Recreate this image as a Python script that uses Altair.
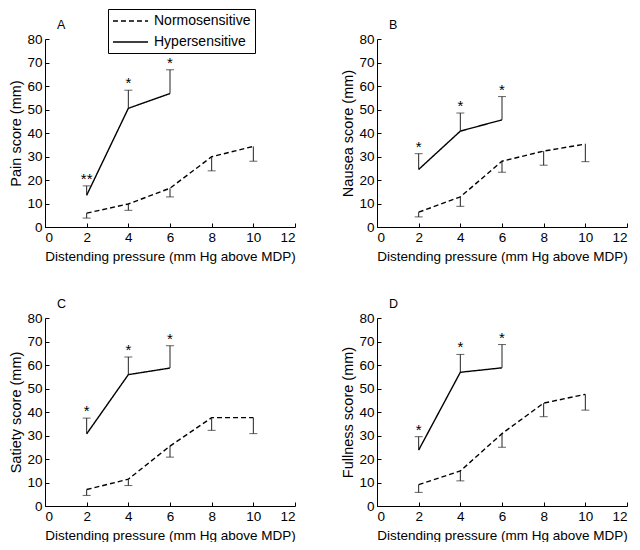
import altair as alt
import pandas as pd

FONT = "Liberation Sans"

x_hyper = [2, 4, 6]
x_normo = [2, 4, 6, 8, 10]
x_ticks = [0, 2, 4, 6, 8, 10, 12]
y_ticks = [0, 10, 20, 30, 40, 50, 60, 70, 80]
groups = ["Normosensitive", "Hypersensitive"]
x_title = "Distending pressure (mm Hg above MDP)"

panel_letters = ["A", "B", "C", "D"]
y_titles = ["Pain score (mm)", "Nausea score (mm)", "Satiety score (mm)", "Fullness score (mm)"]

# Hypersensitive means and upper error ends
pain_hyper = [13.5, 50.5, 56.8]
pain_hyper_hi = [17.5, 58.2, 66.9]
nausea_hyper = [24.5, 40.8, 45.6]
nausea_hyper_hi = [31.2, 48.5, 55.5]
satiety_hyper = [30.7, 55.9, 58.7]
satiety_hyper_hi = [37.4, 63.4, 68.2]
fullness_hyper = [23.8, 56.9, 58.8]
fullness_hyper_hi = [29.5, 64.5, 68.7]

# Normosensitive means and lower error ends
pain_normo = [5.9, 9.8, 16.5, 29.9, 34.3]
pain_normo_lo = [3.8, 7.1, 12.8, 23.9, 28.0]
nausea_normo = [6.3, 12.8, 28.0, 32.3, 35.3]
nausea_normo_lo = [4.3, 8.8, 23.3, 26.3, 27.8]
satiety_normo = [7.0, 11.4, 25.5, 37.6, 37.6]
satiety_normo_lo = [4.5, 8.7, 20.8, 32.2, 30.8]
fullness_normo = [9.1, 14.9, 30.8, 43.8, 47.5]
fullness_normo_lo = [5.8, 10.7, 25.0, 38.0, 40.8]

pain_stars = ["**", "*", "*"]
nausea_stars = ["*", "*", "*"]
satiety_stars = ["*", "*", "*"]
fullness_stars = ["*", "*", "*"]

W, H = 250, 188


def panel(letter, ytitle, h, h_hi, n, n_lo, stars, show_legend):
    names = ["Hypersensitive"] * len(x_hyper) + ["Normosensitive"] * len(x_normo)
    lines = pd.DataFrame({"x": x_hyper + x_normo, "y": h + n, "group": names})
    bars = pd.DataFrame({"x": x_hyper + x_normo, "y": h + n, "y2": h_hi + n_lo})
    star_df = pd.DataFrame({"x": x_hyper, "y": h_hi, "s": stars})

    xs = alt.Scale(domain=[0, 12], nice=False)
    ys = alt.Scale(domain=[0, 80], nice=False)

    x_main = alt.Axis(values=x_ticks, tickSize=0, labelPadding=3, titlePadding=6,
                      domainColor="black", labelColor="black", titleColor="black",
                      labelFont=FONT, titleFont=FONT, labelFontSize=13.5, titleFontSize=13.5,
                      titleFontWeight="normal", grid=False, orient="bottom")
    y_main = alt.Axis(values=y_ticks, tickSize=0, labelPadding=3, titlePadding=3,
                      domainColor="black", labelColor="black", titleColor="black",
                      labelFont=FONT, titleFont=FONT, labelFontSize=13.5, titleFontSize=14.5,
                      titleFontWeight="normal", grid=False, orient="left")
    x_tk = alt.Axis(values=x_ticks, tickSize=4, offset=-4, domain=False, labels=False,
                    title=None, tickColor="black", grid=False, orient="bottom")
    y_tk = alt.Axis(values=y_ticks, tickSize=4, offset=-4, domain=False, labels=False,
                    title=None, tickColor="black", grid=False, orient="left")

    if show_legend:
        legend = alt.Legend(title=None, orient="none", legendX=63, legendY=-30,
                            symbolType="M-1,0H4", symbolSize=196, symbolStrokeWidth=1.3,
                            symbolStrokeColor="black", symbolFillColor="transparent",
                            labelFont=FONT, labelFontSize=14,
                            labelColor="black", strokeColor="black", padding=4,
                            rowPadding=6, labelOffset=26)
    else:
        legend = None

    line = alt.Chart(lines).mark_line(color="black", strokeWidth=1.4).encode(
        x=alt.X("x:Q", scale=xs, axis=x_main, title=x_title),
        y=alt.Y("y:Q", scale=ys, axis=y_main, title=ytitle),
        strokeDash=alt.StrokeDash("group:N",
                                  scale=alt.Scale(domain=groups, range=[[5, 3], [1, 0]]),
                                  legend=legend),
    )
    rule = alt.Chart(bars).mark_rule(color="#222222", strokeWidth=1).encode(
        x=alt.X("x:Q", scale=xs, axis=x_tk),
        y=alt.Y("y:Q", scale=ys, axis=y_tk),
        y2="y2:Q",
    )
    cap = alt.Chart(bars).mark_tick(color="#222222", orient="horizontal", size=8, thickness=1).encode(
        x=alt.X("x:Q", scale=xs, axis=None),
        y=alt.Y("y2:Q", scale=ys, axis=None),
    )
    star = alt.Chart(star_df).mark_text(font=FONT, fontSize=15, baseline="bottom", dy=1,
                                        color="black").encode(
        x=alt.X("x:Q", scale=xs, axis=None),
        y=alt.Y("y:Q", scale=ys, axis=None),
        text="s:N",
    )
    return alt.layer(line, rule, cap, star).resolve_axis(
        x="independent", y="independent"
    ).properties(
        width=W, height=H,
        title=alt.TitleParams(letter, anchor="start", frame="group", dx=12, offset=1,
                              fontSize=12.5, fontWeight="normal", font=FONT, color="black"),
    )


pA = panel("A", y_titles[0], pain_hyper, pain_hyper_hi, pain_normo, pain_normo_lo, pain_stars, True)
pB = panel("B", y_titles[1], nausea_hyper, nausea_hyper_hi, nausea_normo, nausea_normo_lo, nausea_stars, False)
pC = panel("C", y_titles[2], satiety_hyper, satiety_hyper_hi, satiety_normo, satiety_normo_lo, satiety_stars, False)
pD = panel("D", y_titles[3], fullness_hyper, fullness_hyper_hi, fullness_normo, fullness_normo_lo, fullness_stars, False)

chart = alt.vconcat(
    alt.hconcat(pA, pB, spacing=44),
    alt.hconcat(pC, pD, spacing=44),
    spacing=34,
).properties(
    padding={"left": 0, "top": 0, "right": 0, "bottom": 0},
    background="white",
).configure_view(stroke=None)

chart.save("out.html", embed_options={"renderer": "svg", "actions": False})
